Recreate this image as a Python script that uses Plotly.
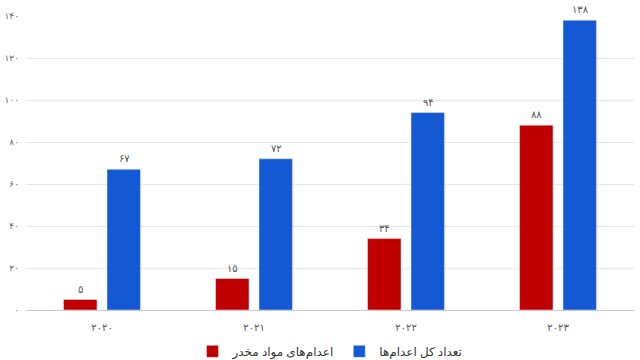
import plotly.graph_objects as go

years = ["۲۰۲۰", "۲۰۲۱", "۲۰۲۲", "۲۰۲۳"]
drug_exec = [5, 15, 34, 88]
total_exec = [67, 72, 94, 138]
drug_labels = ["۵", "۱۵", "۳۴", "۸۸"]
total_labels = ["۶۷", "۷۲", "۹۴", "۱۳۸"]
tick_vals = [0, 20, 40, 60, 80, 100, 120, 140]
tick_text = ["۰", "۲۰", "۴۰", "۶۰", "۸۰", "۱۰۰", "۱۲۰", "۱۴۰"]

fig = go.Figure()
fig.add_trace(go.Bar(
    x=years, y=drug_exec, name="اعدام‌های مواد مخدر", marker_color="#c00000",
))
fig.add_trace(go.Bar(
    x=years, y=total_exec, name="تعداد کل اعدام‌ها", marker_color="#1558d6",
))

for series, labels, shift in [(drug_exec, drug_labels, -22), (total_exec, total_labels, 22)]:
    for yr, v, lab in zip(years, series, labels):
        fig.add_annotation(x=yr, y=v, text=lab, showarrow=False, xshift=shift,
                           yshift=2, yanchor="bottom",
                           font=dict(size=10, color="#555555"))

fig.update_layout(
    width=640, height=360,
    margin=dict(l=26, r=6, t=16, b=50, autoexpand=False),
    paper_bgcolor="white", plot_bgcolor="white",
    barmode="group", bargap=0.428, bargroupgap=0.23,
    font=dict(family="Noto Sans, DejaVu Sans, sans-serif", color="#555555"),
    showlegend=True,
    legend=dict(orientation="h", x=0.5, xanchor="center", y=-0.19, yanchor="bottom",
                font=dict(size=12, color="#333333"), traceorder="normal"),
)
fig.update_xaxes(type="category", showgrid=False, showline=True, linecolor="#cccccc",
                 linewidth=1, ticks="", tickfont=dict(size=10, color="#555555"),
                 ticklabelstandoff=8)
fig.update_yaxes(range=[0, 140], tickvals=tick_vals, ticktext=tick_text,
                 showgrid=True, gridcolor="#e6e6e6", gridwidth=1, zeroline=False,
                 showline=False, ticks="", tickfont=dict(size=9, color="#666666"),
                 ticklabelstandoff=6)

fig.write_html("out.html")
